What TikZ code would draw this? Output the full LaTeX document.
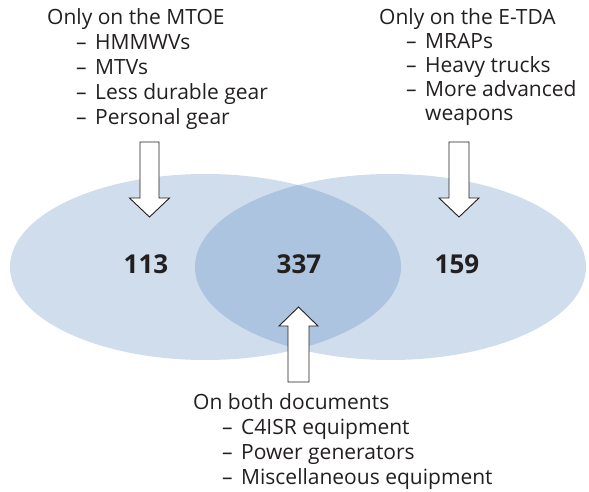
\documentclass[tikz,border=0pt]{standalone}
\usepackage{fontspec}
\setmainfont{Open Sans}
\definecolor{setfill}{RGB}{207,221,236}
\definecolor{bothfill}{RGB}{173,196,224}
\definecolor{ink}{RGB}{35,31,32}
\newcommand{\itemdash}{\makebox[19pt][l]{–}}
\begin{document}
\begin{tikzpicture}[x=1pt,y=-1pt,
  label/.style={anchor=base west, inner sep=0pt, text=ink, font=\fontsize{21}{25}\selectfont},
  count/.style={text=ink, inner sep=0pt, font=\fontsize{26}{30}\selectfont\bfseries},
  blockarrow/.style={draw=ink, fill=white, line width=0.9pt, line join=miter}]
\useasboundingbox (0,0) rectangle (589,492);

% the two sets and their overlap
\fill[setfill] (205.5,267) ellipse [x radius=195.5, y radius=93];
\fill[setfill] (390.5,267) ellipse [x radius=195.5, y radius=93];
\begin{scope}
  \clip (205.5,267) ellipse [x radius=195.5, y radius=93];
  \fill[bothfill] (390.5,267) ellipse [x radius=195.5, y radius=93];
\end{scope}

% counts
\node[count] (onlyMtoe) at (146,264) {113};
\node[count] (both)     at (299,264) {337};
\node[count] (onlyEtda) at (457,264) {159};

% MTOE-only list
\node[label] (mtoeHead) at (47,25)  {Only on the MTOE};
\node[label] (mtoe1)    at (76,50)  {\itemdash HMMWVs};
\node[label] (mtoe2)    at (76,75)  {\itemdash MTVs};
\node[label] (mtoe3)    at (76,100) {\itemdash Less durable gear};
\node[label] (mtoe4)    at (76,125) {\itemdash Personal gear};

% E-TDA-only list
\node[label] (etdaHead) at (379,25)  {Only on the E-TDA};
\node[label] (etda1)    at (406,49)  {\itemdash MRAPs};
\node[label] (etda2)    at (406,73)  {\itemdash Heavy trucks};
\node[label] (etda3)    at (406,97)  {\itemdash More advanced};
\node[label] (etda4)    at (425,121) {weapons};

% list common to both
\node[label] (bothHead) at (193,409) {On both documents};
\node[label] (both1)    at (222,434) {\itemdash C4ISR equipment};
\node[label] (both2)    at (222,459) {\itemdash Power generators};
\node[label] (both3)    at (222,484) {\itemdash Miscellaneous equipment};

% block arrows from each list to its region
\coordinate (mtoeTail) at (149.5,142);
\coordinate (etdaTail) at (459,142);
\coordinate (bothTail) at (298.5,382);

\draw[blockarrow] (mtoeTail) ++(-9.5,0) -- ++(19,0) -- ++(0,56) -- ++(10.5,0)
  -- ++(-20,19) -- ++(-20,-19) -- ++(10.5,0) -- cycle;
\draw[blockarrow] (etdaTail) ++(-10,0) -- ++(20,0) -- ++(0,56) -- ++(10,0)
  -- ++(-20,19) -- ++(-20,-19) -- ++(10,0) -- cycle;
\draw[blockarrow] (bothTail) ++(-10.5,0) -- ++(0,-56) -- ++(-9,0)
  -- ++(19.5,-19) -- ++(19.5,19) -- ++(-9,0) -- ++(0,56) -- cycle;
\end{tikzpicture}
\end{document}
